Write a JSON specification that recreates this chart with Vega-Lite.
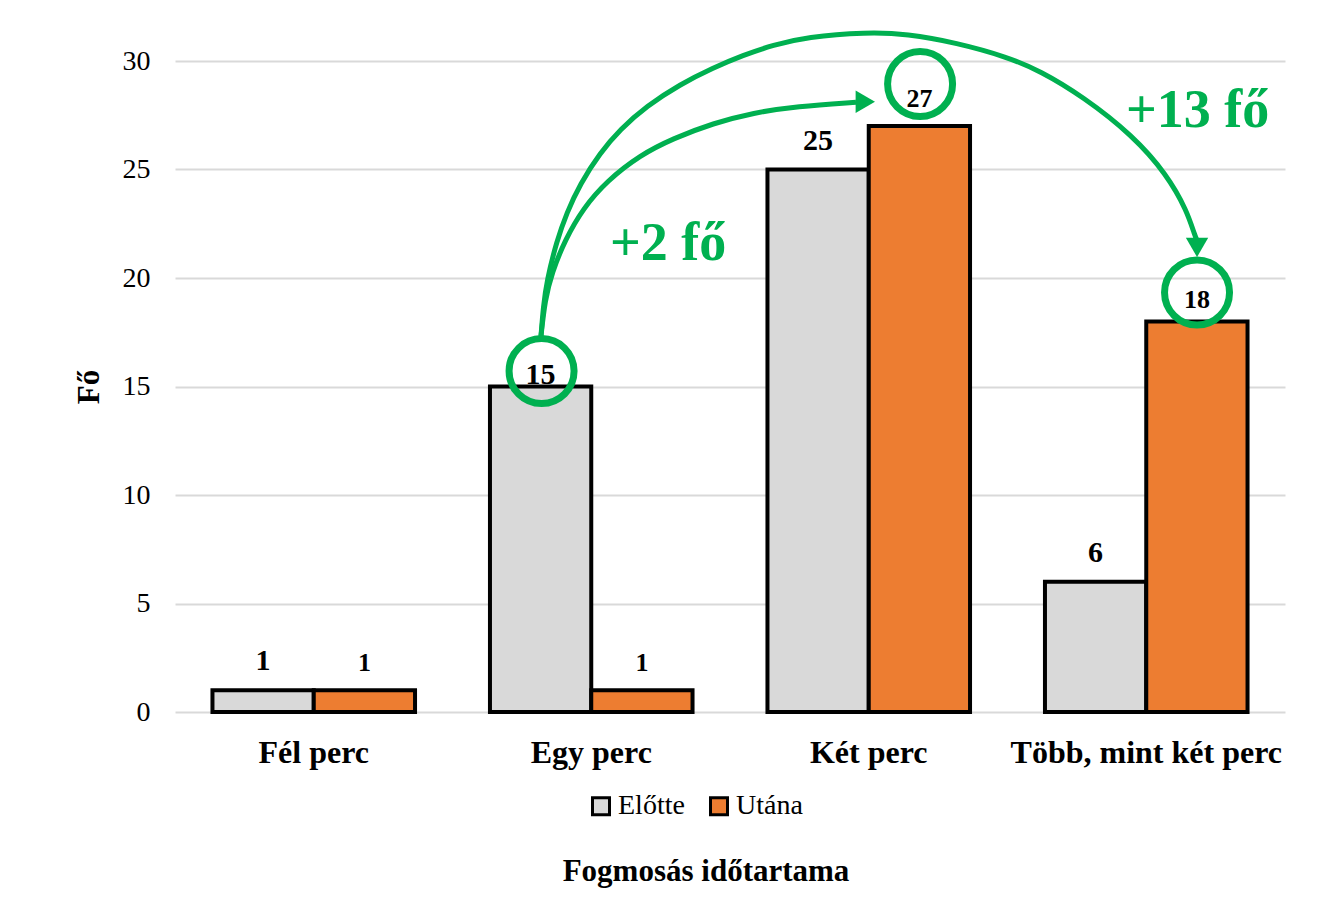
{
  "$schema": "https://vega.github.io/schema/vega-lite/v6.json",
  "width": 1110,
  "height": 651,
  "autosize": {"type": "none"},
  "padding": {"left": 175, "top": 61, "right": 37, "bottom": 191},
  "background": "white",
  "config": {"font": "Liberation Serif", "view": {"stroke": null}},
  "title": {"text": "Fogmosás időtartama", "orient": "bottom", "fontSize": 31, "fontWeight": "bold", "font": "Liberation Serif", "color": "black", "dx": -24, "offset": 36},
  "datasets": {
    "bars": [
      {"kategoria": "Fél perc", "csoport": "Előtte", "fo": 1},
      {"kategoria": "Fél perc", "csoport": "Utána", "fo": 1},
      {"kategoria": "Egy perc", "csoport": "Előtte", "fo": 15},
      {"kategoria": "Egy perc", "csoport": "Utána", "fo": 1},
      {"kategoria": "Két perc", "csoport": "Előtte", "fo": 25},
      {"kategoria": "Két perc", "csoport": "Utána", "fo": 27},
      {"kategoria": "Több, mint két perc", "csoport": "Előtte", "fo": 6},
      {"kategoria": "Több, mint két perc", "csoport": "Utána", "fo": 18}
    ],
    "arrows": [
      {"nyil": "a1", "x": 1.3189, "fo": 17.327},
      {"nyil": "a1", "x": 1.3333, "fo": 18.986},
      {"nyil": "a1", "x": 1.3575, "fo": 20.221},
      {"nyil": "a1", "x": 1.4054, "fo": 21.751},
      {"nyil": "a1", "x": 1.4714, "fo": 23.226},
      {"nyil": "a1", "x": 1.5557, "fo": 24.465},
      {"nyil": "a1", "x": 1.6757, "fo": 25.664},
      {"nyil": "a1", "x": 1.7957, "fo": 26.433},
      {"nyil": "a1", "x": 1.9398, "fo": 27.134},
      {"nyil": "a1", "x": 2.0839, "fo": 27.613},
      {"nyil": "a1", "x": 2.2404, "fo": 27.912},
      {"nyil": "a1", "x": 2.4541, "fo": 28.101},
      {"nyil": "a2", "x": 1.3189, "fo": 17.327},
      {"nyil": "a2", "x": 1.3272, "fo": 18.664},
      {"nyil": "a2", "x": 1.3395, "fo": 19.862},
      {"nyil": "a2", "x": 1.3755, "fo": 21.705},
      {"nyil": "a2", "x": 1.4115, "fo": 22.995},
      {"nyil": "a2", "x": 1.4595, "fo": 24.332},
      {"nyil": "a2", "x": 1.5315, "fo": 25.76},
      {"nyil": "a2", "x": 1.6036, "fo": 26.843},
      {"nyil": "a2", "x": 1.6998, "fo": 27.926},
      {"nyil": "a2", "x": 1.8198, "fo": 28.922},
      {"nyil": "a2", "x": 1.9387, "fo": 29.682},
      {"nyil": "a2", "x": 2.0468, "fo": 30.263},
      {"nyil": "a2", "x": 2.155, "fo": 30.733},
      {"nyil": "a2", "x": 2.2764, "fo": 31.106},
      {"nyil": "a2", "x": 2.4926, "fo": 31.327},
      {"nyil": "a2", "x": 2.6368, "fo": 31.253},
      {"nyil": "a2", "x": 2.8169, "fo": 30.839},
      {"nyil": "a2", "x": 2.9971, "fo": 30.194},
      {"nyil": "a2", "x": 3.1171, "fo": 29.548},
      {"nyil": "a2", "x": 3.2721, "fo": 28.359},
      {"nyil": "a2", "x": 3.4523, "fo": 26.562},
      {"nyil": "a2", "x": 3.5748, "fo": 24.76},
      {"nyil": "a2", "x": 3.6468, "fo": 23.101},
      {"nyil": "a2", "x": 3.6757, "fo": 21.922},
      {"nyil": "a2", "x": 3.6829, "fo": 21.751}
    ],
    "heads": [
      {"nyil": "a1", "x": 2.4876, "fo": 28.12},
      {"nyil": "a2", "x": 3.683, "fo": 21.41}
    ],
    "circles": [
      {"x": 1.321, "fo": 15.71},
      {"x": 2.685, "fo": 28.94},
      {"x": 3.683, "fo": 19.33}
    ],
    "notes": [
      {"szoveg": "+2 fő", "x": 1.777, "fo": 20.83},
      {"szoveg": "+13 fő", "x": 3.685, "fo": 26.96}
    ]
  },
  "layer": [
    {
      "data": {"name": "bars"},
      "encoding": {
        "x": {
          "field": "kategoria", "type": "nominal",
          "sort": ["Fél perc", "Egy perc", "Két perc", "Több, mint két perc"],
          "scale": {"paddingInner": 0.27, "paddingOuter": 0.135},
          "axis": {"title": null, "labelAngle": 0, "labelFontSize": 32, "labelFontWeight": "bold", "labelColor": "black", "labelFont": "Liberation Serif", "labelLimit": 0, "domain": false, "ticks": false, "tickSize": 0, "labelPadding": 25}
        },
        "xOffset": {"field": "csoport", "type": "nominal", "sort": ["Előtte", "Utána"]},
        "y": {
          "field": "fo", "type": "quantitative", "title": "Fő",
          "scale": {"domain": [0, 30], "nice": false},
          "axis": {"values": [0, 5, 10, 15, 20, 25, 30], "grid": true, "gridColor": "#D9D9D9", "gridWidth": 2, "domain": false, "ticks": false, "tickSize": 0, "labelPadding": 25, "labelFontSize": 28, "labelColor": "black", "labelFont": "Liberation Serif", "titleFontSize": 31, "titleFontWeight": "bold", "titleColor": "black", "titleFont": "Liberation Serif", "titlePadding": 17}
        }
      },
      "layer": [
        {
          "mark": {"type": "bar", "stroke": "black", "strokeWidth": 4},
          "encoding": {
            "color": {
              "field": "csoport", "type": "nominal",
              "scale": {"domain": ["Előtte", "Utána"], "range": ["#D9D9D9", "#ED7D31"]},
              "legend": {"title": null, "orient": "none", "direction": "horizontal", "legendX": 412, "legendY": 731, "labelFontSize": 28, "labelFont": "Liberation Serif", "labelColor": "black", "symbolType": "square", "symbolSize": 289, "symbolStrokeColor": "black", "symbolStrokeWidth": 3, "labelOffset": 3, "columnPadding": 19}
            }
          }
        },
        {
          "transform": [{"filter": "datum.csoport == 'Előtte' && datum.fo != 15"}],
          "mark": {"type": "text", "fontSize": 30, "fontWeight": "bold", "font": "Liberation Serif", "color": "black", "baseline": "alphabetic", "dy": -20},
          "encoding": {"text": {"field": "fo", "type": "quantitative"}}
        },
        {
          "transform": [{"filter": "datum.csoport == 'Előtte' && datum.fo == 15"}],
          "mark": {"type": "text", "fontSize": 30, "fontWeight": "bold", "font": "Liberation Serif", "color": "black", "baseline": "alphabetic", "dy": -3},
          "encoding": {"text": {"field": "fo", "type": "quantitative"}}
        },
        {
          "transform": [{"filter": "datum.csoport == 'Utána' && datum.fo != 18"}],
          "mark": {"type": "text", "fontSize": 26, "fontWeight": "bold", "font": "Liberation Serif", "color": "black", "baseline": "alphabetic", "dy": -19},
          "encoding": {"text": {"field": "fo", "type": "quantitative"}}
        },
        {
          "transform": [{"filter": "datum.csoport == 'Utána' && datum.fo == 18"}],
          "mark": {"type": "text", "fontSize": 26, "fontWeight": "bold", "font": "Liberation Serif", "color": "black", "baseline": "alphabetic", "dy": -13},
          "encoding": {"text": {"field": "fo", "type": "quantitative"}}
        }
      ]
    },
    {
      "encoding": {
        "x": {"field": "x", "type": "quantitative", "scale": {"domain": [0, 4], "nice": false, "zero": false}, "axis": null},
        "y": {"field": "fo", "type": "quantitative", "title": "Fő", "scale": {"domain": [0, 30], "nice": false}}
      },
      "layer": [
        {
          "data": {"name": "arrows"},
          "mark": {"type": "line", "interpolate": "basis", "stroke": "#00B050", "strokeWidth": 5, "clip": false},
          "encoding": {"detail": {"field": "nyil", "type": "nominal"}}
        },
        {
          "data": {"name": "heads"},
          "transform": [{"filter": "datum.nyil == 'a1'"}],
          "mark": {"type": "point", "shape": "triangle-right", "filled": true, "color": "#00B050", "opacity": 1, "size": 500, "clip": false}
        },
        {
          "data": {"name": "heads"},
          "transform": [{"filter": "datum.nyil == 'a2'"}],
          "mark": {"type": "point", "shape": "triangle-down", "filled": true, "color": "#00B050", "opacity": 1, "size": 500, "clip": false}
        },
        {
          "data": {"name": "circles"},
          "mark": {"type": "point", "shape": "circle", "filled": false, "stroke": "#00B050", "strokeWidth": 7, "opacity": 1, "size": 4225, "clip": false}
        },
        {
          "data": {"name": "notes"},
          "mark": {"type": "text", "fontSize": 54, "fontWeight": "bold", "font": "Liberation Serif", "color": "#00B050", "baseline": "alphabetic", "align": "center", "clip": false},
          "encoding": {"text": {"field": "szoveg", "type": "nominal"}}
        }
      ]
    }
  ],
  "resolve": {"scale": {"x": "independent"}}
}
